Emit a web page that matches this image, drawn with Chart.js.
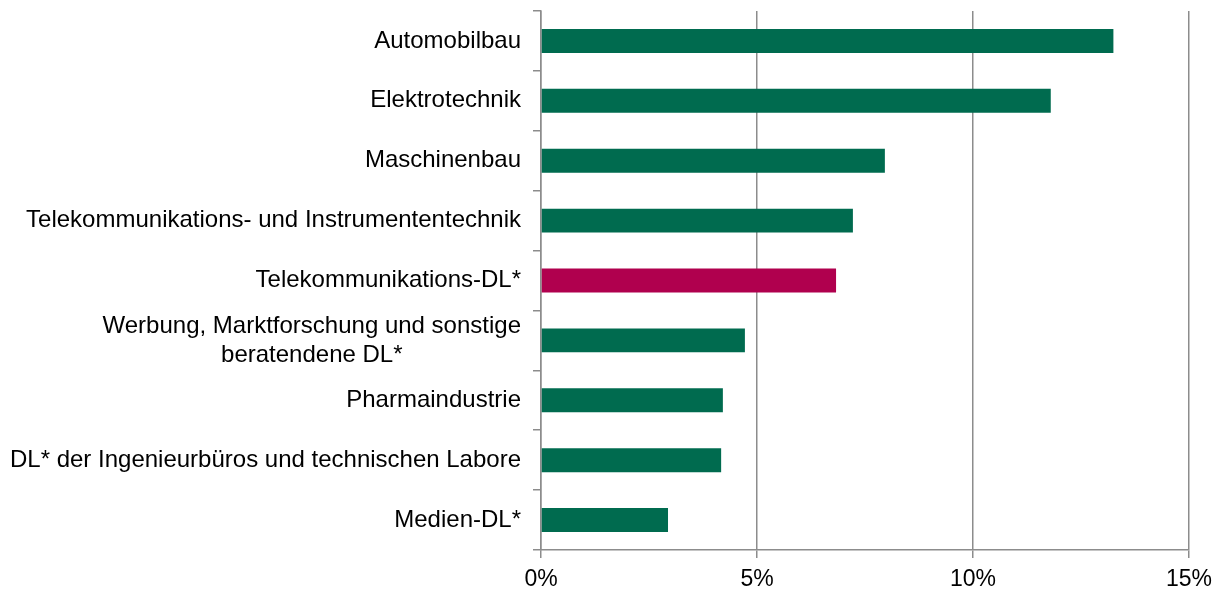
<!DOCTYPE html>
<html>
<head>
<meta charset="utf-8">
<script src="https://cdn.jsdelivr.net/npm/chart.js@4"></script>
<style>
  body { margin: 0; background: #fff; }
  #wrap { width: 1222px; height: 590px; }
</style>
</head>
<body>
<div id="wrap"><canvas id="chart"></canvas></div>
<script>
const categories = [
  "Automobilbau",
  "Elektrotechnik",
  "Maschinenbau",
  "Telekommunikations- und Instrumententechnik",
  "Telekommunikations-DL*",
  ["Werbung, Marktforschung und sonstige", "beratendene DL*"],
  "Pharmaindustrie",
  "DL* der Ingenieurbüros und technischen Labore",
  "Medien-DL*"
];
const values = [13.25, 11.8, 7.96, 7.22, 6.83, 4.72, 4.21, 4.17, 2.94];
const highlight = [false, false, false, false, true, false, false, false, false];
const xTicks = [0, 5, 10, 15];

const green = "#006b4f";
const magenta = "#b0004e";
const gridColor = "#8c8c8c";
const font = "Liberation Sans, Arial, sans-serif";
const fontSize = 24;

// y labels drawn by hand so that two-line labels are centred on each other
const yLabels = {
  id: "yLabels",
  afterDraw(chart) {
    const ctx = chart.ctx;
    const y = chart.scales.y;
    const right = y.right - 20;
    ctx.save();
    ctx.font = fontSize + "px " + font;
    ctx.fillStyle = "#000";
    ctx.textBaseline = "middle";
    categories.forEach((c, i) => {
      const lines = Array.isArray(c) ? c : [c];
      const lh = 29;
      const cy = y.getPixelForTick(i);
      const w = Math.max(...lines.map(l => ctx.measureText(l).width));
      const cx = right - w / 2;
      ctx.textAlign = "center";
      lines.forEach((l, k) => {
        ctx.fillText(l, cx, cy + (k - (lines.length - 1) / 2) * lh);
      });
    });
    ctx.restore();
  }
};

new Chart(document.getElementById("chart"), {
  type: "bar",
  data: {
    labels: categories,
    datasets: [{
      data: values,
      backgroundColor: highlight.map(h => h ? magenta : green),
      borderWidth: 0,
      barPercentage: 0.4,
      categoryPercentage: 1
    }]
  },
  options: {
    indexAxis: "y",
    responsive: true,
    maintainAspectRatio: false,
    animation: false,
    layout: { padding: { left: 0, right: 33, top: 11, bottom: 0 } },
    plugins: { legend: { display: false }, tooltip: { enabled: false } },
    scales: {
      x: {
        min: 0,
        max: 15,
        afterBuildTicks: s => { s.ticks = xTicks.map(v => ({ value: v })); },
        ticks: {
          callback: v => v + "%",
          color: "#000",
          font: { family: font, size: 23 },
          padding: 8
        },
        grid: { color: gridColor, lineWidth: 1.5, tickLength: 8 },
        border: { color: gridColor, width: 1.5 },
        afterFit: s => { s.height = 40; }
      },
      y: {
        ticks: { display: false },
        grid: { drawOnChartArea: false, color: gridColor, lineWidth: 1.5, tickLength: 8, offset: true },
        border: { color: gridColor, width: 1.5 },
        afterFit: s => { s.width = 541; }
      }
    }
  },
  plugins: [yLabels]
});
</script>
</body>
</html>
